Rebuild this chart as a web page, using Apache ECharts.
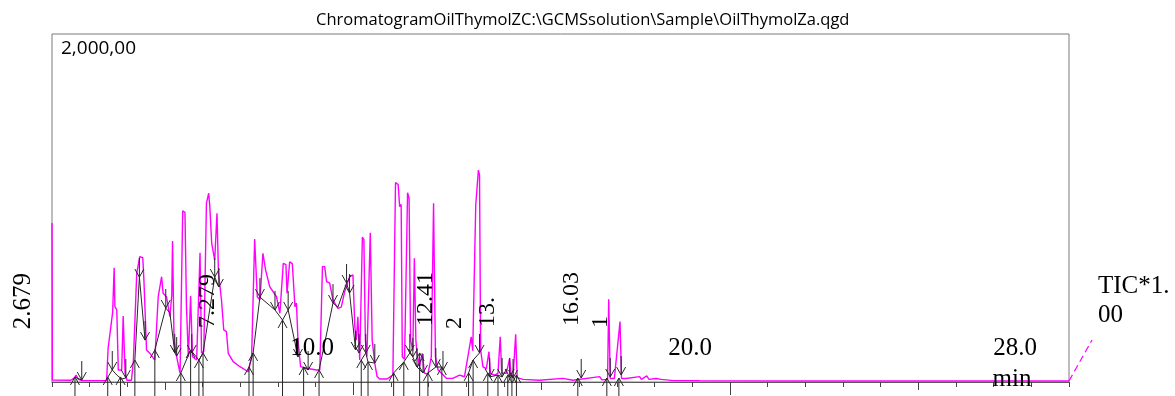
<!DOCTYPE html>
<html>
<head>
<meta charset="utf-8">
<script src="https://cdn.jsdelivr.net/npm/echarts@6/dist/echarts.min.js"></script>
<style>
  html, body { margin: 0; padding: 0; background: #fff; }
  #main { width: 1175px; height: 396px; }
</style>
</head>
<body>
<div id="main"></div>
<script>
// TIC trace (retention time in min, intensity in thousands)
const signalTime = [
  2.00, 2.01, 2.50, 2.60, 2.64, 2.70, 2.80, 3.20, 3.45, 3.49,
  3.54, 3.61, 3.65, 3.67, 3.72, 3.76, 3.85, 3.89, 3.94, 3.99,
  4.11, 4.16, 4.25, 4.33, 4.41, 4.44, 4.51, 4.60, 4.73, 4.82,
  4.91, 4.95, 5.04, 5.13, 5.18, 5.20, 5.24, 5.31, 5.40, 5.47,
  5.53, 5.57, 5.62, 5.68, 5.73, 5.84, 5.93, 5.97, 6.03, 6.10,
  6.16, 6.19, 6.24, 6.32, 6.38, 6.42, 6.50, 6.56, 6.63, 6.68,
  6.81, 6.99, 7.21, 7.30, 7.38, 7.45, 7.52, 7.60, 7.67, 7.78,
  7.96, 8.05, 8.14, 8.21, 8.24, 8.31, 8.38, 8.45, 8.49, 8.53,
  8.60, 8.76, 9.02, 9.11, 9.18, 9.24, 9.29, 9.37, 9.46, 9.59,
  9.68, 9.77, 9.90, 9.99, 10.04, 10.08, 10.12, 10.17, 10.24, 10.28,
  10.32, 10.36, 10.45, 10.50, 10.57, 10.63, 10.70, 10.88, 10.95, 11.00,
  11.05, 11.12, 11.19, 11.23, 11.27, 11.30, 11.36, 11.44, 11.48, 11.52,
  11.58, 11.62, 11.66, 11.69, 11.76, 11.83, 11.89, 11.98, 12.07, 12.13,
  12.18, 12.25, 12.34, 12.47, 12.64, 12.82, 12.95, 13.13, 13.17, 13.25,
  13.28, 13.32, 13.35, 13.38, 13.44, 13.53, 13.60, 13.64, 13.75, 13.84,
  13.90, 13.94, 14.06, 14.15, 14.19, 14.24, 14.31, 14.35, 14.50, 14.94,
  15.56, 15.83, 16.54, 16.60, 16.75, 16.78, 16.82, 16.93, 17.08, 17.12,
  17.24, 17.60, 17.65, 17.79, 17.85, 18.04, 18.17, 18.50, 19.19, 21.84,
  24.49, 27.15, 29.00
];
const signalValue = [
  914, 11, 10, 25, 40, 15, 8, 8, 8, 194,
  194, 400, 657, 433, 414, 69, 69, 379, 52, 10,
  10, 120, 625, 720, 715, 586, 184, 165, 126, 490,
  605, 510, 490, 375, 500, 810, 241, 145, 50, 983,
  975, 433, 145, 494, 145, 126, 743, 167, 175, 1027,
  1085, 1008, 797, 701, 970, 626, 471, 299, 290, 165,
  117, 88, 59, 145, 822, 490, 471, 740, 644, 548,
  490, 395, 682, 675, 510, 691, 680, 433, 454, 241,
  88, 79, 69, 69, 663, 663, 576, 570, 471, 423,
  430, 519, 605, 615, 318, 241, 375, 126, 832, 820,
  241, 145, 858, 241, 107, 31, 17, 17, 25, 15,
  40, 1146, 1135, 1008, 1020, 145, 130, 1088, 1056, 241,
  180, 711, 241, 165, 88, 165, 50, 45, 145, 1027,
  145, 69, 50, 21, 21, 40, 30, 260, 180, 1017,
  1017, 1218, 1190, 184, 88, 75, 174, 50, 40, 50,
  260, 50, 50, 136, 40, 25, 274, 25, 15, 10,
  21, 10, 31, 12, 15, 475, 20, 20, 347, 20,
  20, 31, 15, 35, 15, 20, 15, 8, 7, 6,
  6, 6, 6
];
// trace running on past the end of the time window
const tailTime = [29.00, 29.61];
const tailValue = [6, 241];

// peak start marks (arrow up) and peak end marks (arrow down)
const upArrowTime = [2.61, 3.48, 3.82, 4.20, 4.73, 5.42, 5.68, 5.90, 6.01, 7.23, 7.34, 8.12, 8.68, 9.09,
  10.21, 10.39, 11.07, 11.34, 11.76, 11.98, 12.35, 13.06, 13.18, 13.57, 13.84, 14.10, 14.21, 14.33,
  15.96, 16.73, 17.05];
const upArrowValue = [29, 29, 29, 126, 184, 52, 184, 126, 167, 86, 167, 356, 86, 69,
  126, 115, 52, 115, 167, 52, 86, 52, 126, 52, 40, 40, 40, 40,
  23, 23, 23];
const downArrowTime = [2.79, 3.60, 3.96, 4.32, 4.47, 5.02, 5.26, 5.31, 5.71, 6.32, 6.43, 7.52, 7.92,
  8.27, 8.53, 8.80, 9.46, 9.82, 9.90, 10.06, 10.15, 10.33, 10.57, 11.50, 11.58, 11.69, 11.85,
  12.19, 12.38, 13.35, 13.62, 13.95, 14.15, 14.24, 16.05, 16.82, 17.11];
const downArrowValue = [11, 69, 23, 603, 241, 425, 167, 149, 167, 603, 546, 488, 414,
  414, 144, 69, 454, 569, 511, 184, 167, 167, 109, 167, 144, 86, 52,
  86, 69, 167, 29, 29, 29, 23, 23, 29, 40];

// integration baselines drawn between the marks
const peakBaselines = [
  [[2.61, 29], [2.79, 11]],
  [[3.45, 17], [3.60, 69], [3.72, 40], [3.85, 17], [3.96, 23]],
  [[4.20, 126], [4.32, 603], [4.47, 241]],
  [[4.73, 184], [5.02, 425], [5.13, 397], [5.26, 167]],
  [[5.42, 52], [5.68, 184], [5.90, 126], [6.01, 167], [6.32, 603], [6.43, 546]],
  [[7.23, 86], [7.34, 167], [7.52, 488], [7.92, 414], [8.12, 356], [8.27, 414], [8.53, 144]],
  [[8.68, 86], [8.80, 69]],
  [[9.09, 69], [9.46, 454], [9.59, 430], [9.82, 569], [9.90, 511], [10.06, 184]],
  [[10.21, 126], [10.33, 167], [10.39, 115], [10.57, 109]],
  [[11.07, 52], [11.34, 115], [11.50, 167], [11.58, 144], [11.69, 86], [11.85, 52]],
  [[11.98, 52], [12.19, 86], [12.35, 86]],
  [[13.06, 52], [13.18, 126], [13.35, 167]],
  [[13.57, 52], [13.62, 29], [13.84, 40], [13.95, 29]]
];

const minorTicks = [5, 15, 25];
const majorTicks = [10, 20];

const chart = echarts.init(document.getElementById('main'));

const signalData = signalTime.map((t, i) => [t, signalValue[i]]);
const arrowData = upArrowTime.map((t, i) => [t, upArrowValue[i], 1])
  .concat(downArrowTime.map((t, i) => [t, downArrowValue[i], -1]));

const ink = '#262626';
const magenta = '#ff00ff';

function renderArrow(params, api) {
  const p = api.coord([api.value(0), api.value(1)]);
  const dir = api.value(2);
  const base = api.coord([api.value(0), 0])[1];
  const tail = dir > 0 ? base + 14 : p[1] - 19;
  return {
    type: 'group',
    children: [
      { type: 'line', shape: { x1: p[0], y1: tail, x2: p[0], y2: p[1] },
        style: { stroke: ink, lineWidth: 1 } },
      { type: 'polyline',
        shape: { points: [[p[0] - 4.5, p[1] + 8 * dir], [p[0], p[1]], [p[0] + 4.5, p[1] + 8 * dir]] },
        style: { stroke: ink, fill: null, lineWidth: 1 } }
    ]
  };
}

function renderTail(params, api) {
  if (params.dataIndex > 0) return null;
  const pts = tailTime.map((t, i) => api.coord([t, tailValue[i]]));
  return { type: 'polyline', shape: { points: pts },
    style: { stroke: magenta, fill: null, lineWidth: 1.2, lineDash: [7, 4] } };
}

const xBase = { type: 'value', min: 2, max: 29, gridIndex: 0, position: 'bottom',
  axisLabel: { show: false }, splitLine: { show: false } };

const serif = '"Liberation Serif", "Times New Roman", serif';
function label(text, x, y, size, rot, align) {
  return {
    type: 'text', x: x, y: y, rotation: rot || 0, z: 50,
    style: { text: text, font: size + 'px ' + serif, fill: '#000',
      align: align || 'center', verticalAlign: 'middle',
      textAlign: align || 'center', textVerticalAlign: 'middle' }
  };
}

const option = {
  animation: false,
  grid: { left: 52, right: 106, top: 34, bottom: 14, show: true,
    borderColor: '#7a7a7a', borderWidth: 1, backgroundColor: 'transparent' },
  xAxis: [
    Object.assign({}, xBase, { interval: 1,
      axisLine: { show: true, lineStyle: { color: '#5a5a5a', width: 1 } },
      axisTick: { show: true, length: 5, lineStyle: { color: '#444' } } }),
    Object.assign({}, xBase, {
      axisLine: { show: false },
      axisTick: { show: true, length: 8, customValues: minorTicks, lineStyle: { color: '#444' } } }),
    Object.assign({}, xBase, {
      axisLine: { show: false },
      axisTick: { show: true, length: 13, customValues: majorTicks, lineStyle: { color: '#444' } } })
  ],
  yAxis: { type: 'value', min: 0, max: 2000, axisLine: { show: false },
    axisTick: { show: false }, axisLabel: { show: false }, splitLine: { show: false } },
  series: [
    { type: 'line', data: signalData, showSymbol: false, clip: false, z: 3,
      lineStyle: { color: magenta, width: 1.4 } },
    { type: 'custom', data: tailTime.map((t, i) => [t, tailValue[i]]), renderItem: renderTail,
      clip: false, z: 3 }
  ].concat(peakBaselines.map(seg => ({
    type: 'line', data: seg, showSymbol: false, z: 4,
    lineStyle: { color: ink, width: 1 }
  }))).concat([
    { type: 'custom', data: arrowData, renderItem: renderArrow, clip: false, z: 5 }
  ]),
  graphic: [
    { type: 'text', x: 316, y: 20, z: 50,
      style: { text: 'ChromatogramOilThymolZC:\\GCMSsolution\\Sample\\OilThymolZa.qgd',
        font: '16.5px "Open Sans", "Noto Sans", sans-serif', fill: '#000',
        align: 'left', verticalAlign: 'middle', textAlign: 'left', textVerticalAlign: 'middle' } },
    { type: 'text', x: 61, y: 49, z: 50,
      style: { text: '2,000,00', font: '19px "Open Sans", "Noto Sans", sans-serif', fill: '#000',
        align: 'left', verticalAlign: 'middle', textAlign: 'left', textVerticalAlign: 'middle' } },
    label('2.679', 23, 301, 25, Math.PI / 2),
    label('7.279', 208, 301, 24, Math.PI / 2),
    label('12.41', 426, 299, 24, Math.PI / 2),
    label('2', 455, 323, 24, Math.PI / 2),
    label('13.', 488, 312, 24, Math.PI / 2),
    label('16.03', 572, 299, 24, Math.PI / 2),
    label('1', 601, 322, 24, Math.PI / 2),
    label('10.0', 312, 348, 25),
    label('20.0', 690, 348, 25),
    label('28.0', 1015, 348, 25),
    label('min', 1012, 379, 25),
    label('TIC*1.', 1098, 286, 25, 0, 'left'),
    label('00', 1098, 315, 25, 0, 'left')
  ]
};

chart.setOption(option);
</script>
</body>
</html>
